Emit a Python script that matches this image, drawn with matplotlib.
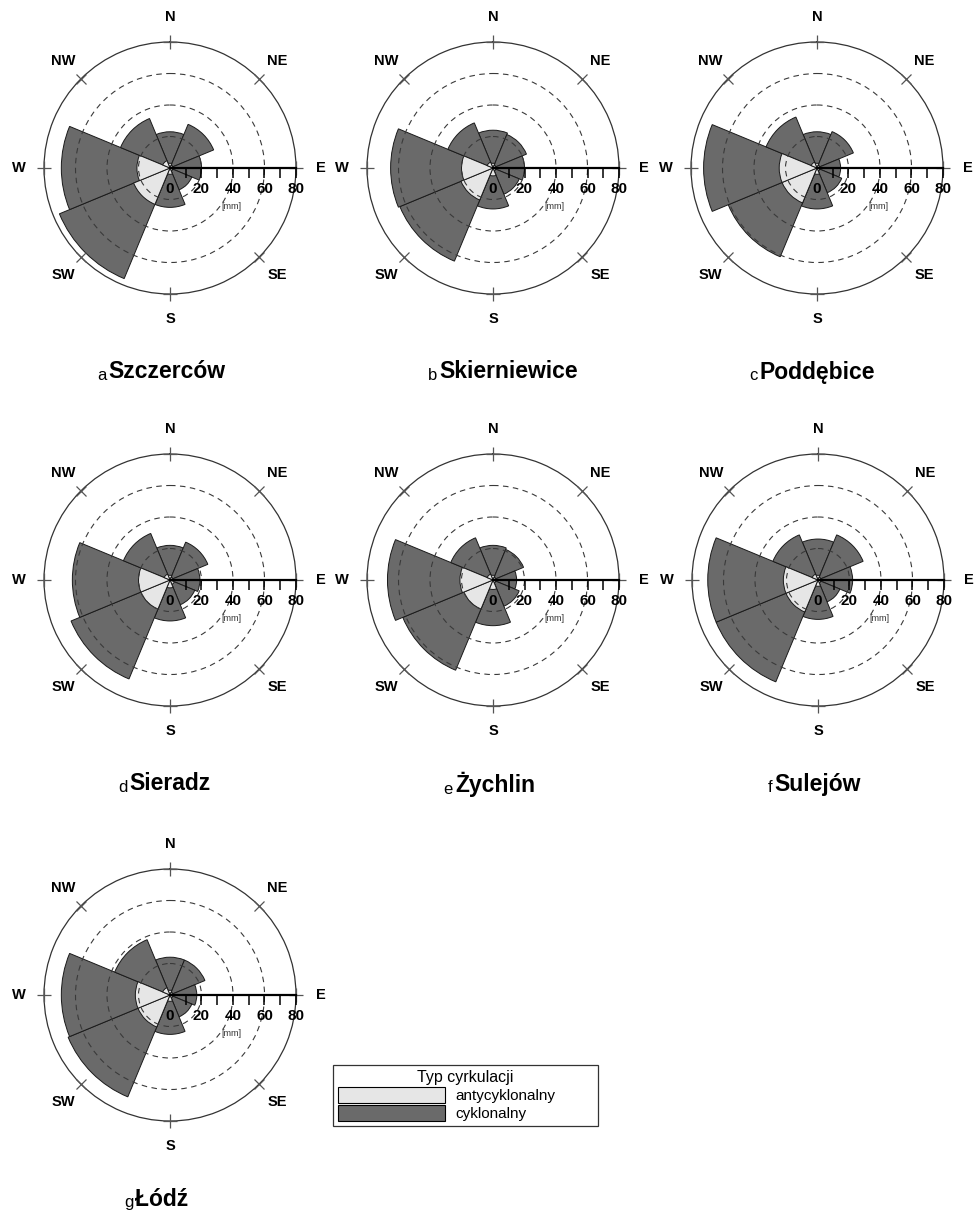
import numpy as np
import matplotlib
matplotlib.use('Agg')
import matplotlib.pyplot as plt
from matplotlib.patches import Patch

plt.rcParams['font.family'] = ['Liberation Sans', 'DejaVu Sans']

# ---------------- data ----------------
directions = ['N', 'NE', 'E', 'SE', 'S', 'SW', 'W', 'NW']
dir_angles_deg = [0, 45, 90, 135, 180, 225, 270, 315]

stations = ['Szczerców', 'Skierniewice', 'Poddębice', 'Sieradz', 'Żychlin', 'Sulejów', 'Łódź']
letters = ['a', 'b', 'c', 'd', 'e', 'f', 'g']

# precipitation [mm] by wind direction, order N, NE, E, SE, S, SW, W, NW
cyc_szczercow    = [23, 30, 20, 15, 25, 76, 69, 34]
cyc_skierniewice = [24, 23, 20, 18, 26, 64, 65, 31]
cyc_poddebice    = [23, 25, 15, 17, 26, 61, 72, 35]
cyc_sieradz      = [22, 26, 19, 17, 26, 68, 62, 32]
cyc_zychlin      = [22, 21, 15, 18, 29, 62, 67, 29]
cyc_sulejow      = [26, 31, 22, 15, 25, 70, 70, 31]
cyc_lodz         = [24, 24, 17, 15, 25, 70, 69, 38]

anti_szczercow    = [3, 2, 2, 2, 4, 25, 21, 5]
anti_skierniewice = [3, 2, 2, 2, 5, 22, 20, 4]
anti_poddebice    = [3, 2, 2, 2, 4, 24, 24, 4]
anti_sieradz      = [3, 2, 2, 3, 5, 20, 20, 4]
anti_zychlin      = [3, 2, 2, 2, 6, 20, 21, 4]
anti_sulejow      = [3, 2, 2, 2, 4, 22, 22, 4]
anti_lodz         = [3, 2, 2, 2, 4, 22, 22, 5]

cyclonic = [cyc_szczercow, cyc_skierniewice, cyc_poddebice, cyc_sieradz,
            cyc_zychlin, cyc_sulejow, cyc_lodz]
anticyclonic = [anti_szczercow, anti_skierniewice, anti_poddebice, anti_sieradz,
                anti_zychlin, anti_sulejow, anti_lodz]

grid_circles = [20, 40, 60]
scale_labels = [0, 20, 40, 60, 80]
scale_ticks = [10, 20, 30, 40, 50, 60, 70, 80]
r_max = 80

legend_title = 'Typ cyrkulacji'
legend_labels = ['antycyklonalny', 'cyklonalny']

# ---------------- style / layout ----------------
DARK = '#6a6a6a'
LIGHT = '#e6e6e6'
W, H = 978, 1217
R = 126  # px radius of the rose
centers = [(170, 168), (493, 168), (817, 168),
           (170, 580), (493, 580), (818, 580),
           (170, 995)]
title_dx = [-3, 16, 0, 0, 2, 0, -8]

fig = plt.figure(figsize=(W / 100, H / 100), dpi=100)
fig.patch.set_facecolor('white')

theta = np.deg2rad(dir_angles_deg)
width = np.deg2rad(45)

for i, (cx, cy) in enumerate(centers):
    ax = fig.add_axes([(cx - R) / W, 1 - (cy + R) / H, 2 * R / W, 2 * R / H],
                      projection='polar')
    ax.set_theta_zero_location('N')
    ax.set_theta_direction(-1)
    ax.set_ylim(0, r_max)
    ax.set_facecolor('none')

    ax.bar(theta, cyclonic[i], width=width, color=DARK, edgecolor='#1a1a1a',
           linewidth=0.7, zorder=1)
    ax.bar(theta, anticyclonic[i], width=width, color=LIGHT, edgecolor='#1a1a1a',
           linewidth=0.7, zorder=1.2)

    ax.set_xticks([])
    ax.set_yticks(grid_circles)
    ax.set_yticklabels([])
    ax.xaxis.grid(False)
    ax.yaxis.grid(True, linestyle=(0, (5, 4)), color='#3a3a3a', linewidth=0.8)
    ax.set_axisbelow(False)
    ax.spines['polar'].set_color('#333333')
    ax.spines['polar'].set_linewidth(0.9)

    # compass crosses on the outer circle
    ax.plot(theta[0::2], [r_max] * 4, ls='none', marker='+', ms=10, mew=0.9,
            color='#555555', clip_on=False, zorder=3)
    ax.plot(theta[1::2], [r_max] * 4, ls='none', marker='x', ms=7, mew=0.9,
            color='#555555', clip_on=False, zorder=3)

    # direction labels
    for d, t in zip(directions, theta):
        ax.text(t, 96, d, ha='center', va='center', fontsize=10.5,
                fontweight='bold', clip_on=False)

    # scale axis along E
    e = np.deg2rad(90)
    ax.plot([e, e], [0, r_max], color='black', lw=1.6, zorder=4, clip_on=False)
    ax.plot([e] * len(scale_ticks), scale_ticks, ls='none', marker=3, ms=7.5,
            mew=1.1, color='black', zorder=4, clip_on=False)
    for v in scale_labels:
        ax.annotate(str(v), xy=(e, v), xytext=(0, -10), textcoords='offset points',
                    ha='center', va='top', fontsize=11, fontweight='bold',
                    annotation_clip=False, zorder=5)
    ax.annotate('[mm]', xy=(e, 39), xytext=(0, -28), textcoords='offset points',
                ha='center', va='center', fontsize=6.5, color='#333333',
                annotation_clip=False)

    # panel title: subscript letter + bold station name
    name = fig.text((cx + title_dx[i]) / W, 1 - (cy + 204) / H, stations[i],
                    ha='center', va='center', fontsize=16.5, fontweight='bold')
    ax.annotate(letters[i], xy=(0, 0), xycoords=name, xytext=(-1.5, 0),
                textcoords='offset points', ha='right', va='bottom',
                fontsize=12, annotation_clip=False)

# legend
handles = [Patch(facecolor=LIGHT, edgecolor='black', linewidth=0.8, label=legend_labels[0]),
           Patch(facecolor=DARK, edgecolor='black', linewidth=0.8, label=legend_labels[1])]
leg = fig.legend(handles=handles, title=legend_title, loc='upper left',
                 bbox_to_anchor=(333 / W, 1 - 1128 / H, 265 / W, 63 / H),
                 mode='expand', frameon=True, fancybox=False, edgecolor='black',
                 fontsize=11, title_fontsize=11.5, handlelength=7,
                 handleheight=1.2, borderpad=0.3, labelspacing=0.15,
                 handletextpad=0.7, borderaxespad=0)
leg.get_frame().set_linewidth(0.9)

fig.savefig('out.png', dpi=100, facecolor='white')
